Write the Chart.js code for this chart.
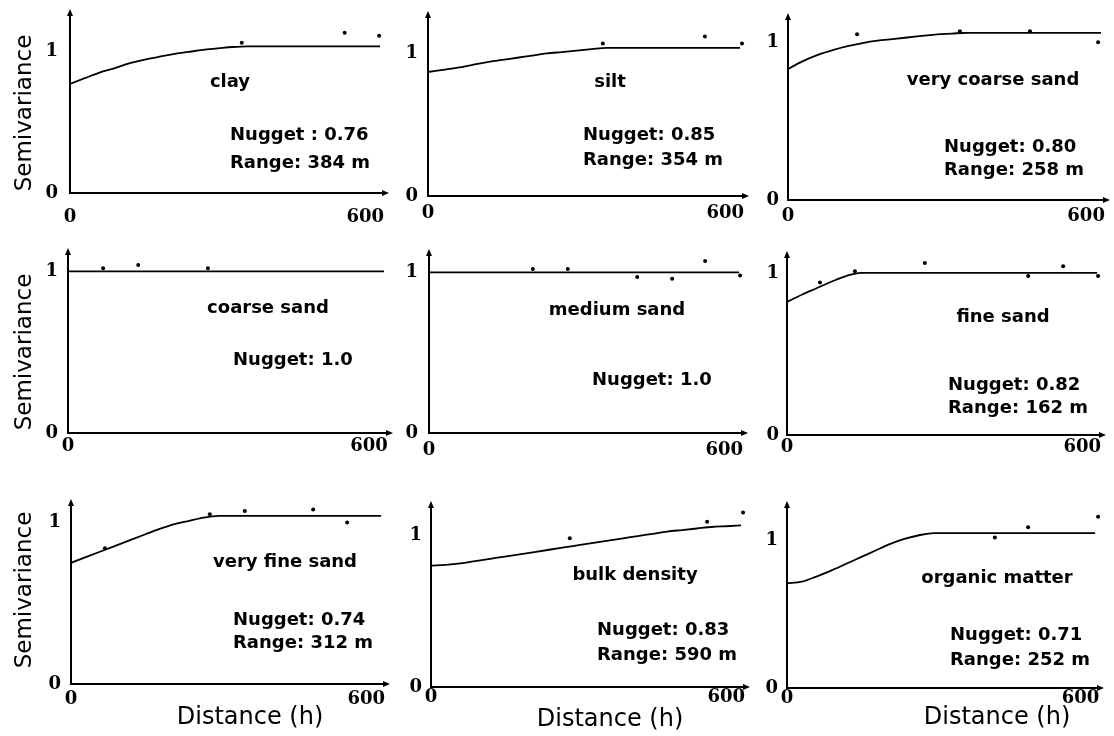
<!DOCTYPE html>
<html>
<head>
<meta charset="utf-8">
<script src="https://cdn.jsdelivr.net/npm/chart.js@4.4.1/dist/chart.umd.min.js"></script>
<style>
    html, body { margin: 0; padding: 0; background: #fff; }
    #wrap { position: relative; width: 1114px; height: 736px; overflow: hidden; }
    #wrap canvas { position: absolute; }
</style>
</head>
<body>
<div id="wrap"></div>
<script>
// semivariogram model curves, sampled on a common lag grid (m)
const lagDistance = [0, 30, 60, 90, 120, 150, 180, 210, 240, 270, 300, 330, 360, 390, 420, 450, 480, 510, 540, 570, 600, 630];

const clayModel   = [0.77, 0.81, 0.85, 0.88, 0.915, 0.94, 0.96, 0.98, 0.995, 1.01, 1.02, 1.03, 1.035, 1.035, 1.035, 1.035, 1.035, 1.035, 1.035, 1.035, 1.035, 1.035];
const siltModel   = [0.87, 0.885, 0.90, 0.92, 0.94, 0.955, 0.97, 0.985, 1.0, 1.01, 1.02, 1.03, 1.04, 1.04, 1.04, 1.04, 1.04, 1.04, 1.04, 1.04, 1.04, 1.04];
const vcSandModel = [0.83, 0.88, 0.92, 0.95, 0.975, 0.995, 1.01, 1.02, 1.03, 1.04, 1.05, 1.055, 1.06, 1.06, 1.06, 1.06, 1.06, 1.06, 1.06, 1.06, 1.06, 1.06];
const cSandModel  = [1.0, 1.0, 1.0, 1.0, 1.0, 1.0, 1.0, 1.0, 1.0, 1.0, 1.0, 1.0, 1.0, 1.0, 1.0, 1.0, 1.0, 1.0, 1.0, 1.0, 1.0, 1.0];
const mSandModel  = [1.0, 1.0, 1.0, 1.0, 1.0, 1.0, 1.0, 1.0, 1.0, 1.0, 1.0, 1.0, 1.0, 1.0, 1.0, 1.0, 1.0, 1.0, 1.0, 1.0, 1.0, 1.0];
const fSandModel  = [0.82, 0.865, 0.905, 0.945, 0.98, 1.0, 1.0, 1.0, 1.0, 1.0, 1.0, 1.0, 1.0, 1.0, 1.0, 1.0, 1.0, 1.0, 1.0, 1.0, 1.0, 1.0];
const vfSandModel = [0.75, 0.785, 0.82, 0.855, 0.89, 0.925, 0.96, 0.99, 1.01, 1.03, 1.04, 1.04, 1.04, 1.04, 1.04, 1.04, 1.04, 1.04, 1.04, 1.04, 1.04, 1.04];
const bulkModel   = [0.80, 0.805, 0.815, 0.83, 0.845, 0.86, 0.875, 0.89, 0.905, 0.92, 0.935, 0.95, 0.965, 0.98, 0.995, 1.01, 1.025, 1.035, 1.045, 1.055, 1.06, 1.065];
const omModel     = [0.71, 0.72, 0.755, 0.795, 0.84, 0.885, 0.93, 0.975, 1.01, 1.035, 1.05, 1.05, 1.05, 1.05, 1.05, 1.05, 1.05, 1.05, 1.05, 1.05, 1.05, 1.05];

// experimental points that stand off the curve
const clayLags   = [349, 558, 628];
const clayPts    = [1.06, 1.13, 1.11];
const siltLags   = [353, 559, 634];
const siltPts    = [1.07, 1.12, 1.07];
const vcSandLags = [139, 346, 487, 624];
const vcSandPts  = [1.05, 1.07, 1.07, 1.0];
const cSandLags  = [70, 140, 279];
const cSandPts   = [1.02, 1.04, 1.02];
const mSandLags  = [211, 282, 423, 494, 561, 632];
const mSandPts   = [1.02, 1.02, 0.97, 0.96, 1.07, 0.98];
const fSandLags  = [67, 138, 280, 490, 561, 632];
const fSandPts   = [0.94, 1.01, 1.06, 0.98, 1.04, 0.98];
const vfSandLags = [69, 282, 353, 492, 561];
const vfSandPts  = [0.84, 1.05, 1.07, 1.08, 1.0];
const bulkLags   = [282, 561, 634];
const bulkPts    = [0.98, 1.09, 1.15];
const omLags     = [425, 493, 636];
const omPts      = [1.02, 1.09, 1.16];

const panelNames   = ['clay', 'silt', 'very coarse sand', 'coarse sand', 'medium sand', 'fine sand', 'very fine sand', 'bulk density', 'organic matter'];
const nuggetLabels = ['Nugget : 0.76', 'Nugget: 0.85', 'Nugget: 0.80', 'Nugget: 1.0', 'Nugget: 1.0', 'Nugget: 0.82', 'Nugget: 0.74', 'Nugget: 0.83', 'Nugget: 0.71'];
const rangeLabels  = ['Range: 384 m', 'Range: 354 m', 'Range: 258 m', '', '', 'Range: 162 m', 'Range: 312 m', 'Range: 590 m', 'Range: 252 m'];
const yTicks = [0, 1];
const xTicks = [0, 600];
const xTitle = 'Distance (h)';
const yTitle = 'Semivariance';

const models = [clayModel, siltModel, vcSandModel, cSandModel, mSandModel, fSandModel, vfSandModel, bulkModel, omModel];
const ptLags = [clayLags, siltLags, vcSandLags, cSandLags, mSandLags, fSandLags, vfSandLags, bulkLags, omLags];
const ptVals = [clayPts, siltPts, vcSandPts, cSandPts, mSandPts, fSandPts, vfSandPts, bulkPts, omPts];

// page layout: canvas cells and plot frames (page pixels)
const colLeft = [0, 400, 760], colWidth = [400, 360, 354];
const rowTop = [0, 235, 475], rowHeight = [235, 240, 261];
const frames = [
    { L: 70,  R: 385,  T: 13,  B: 193, ymax: 1.27, xPad: 14, yPad: 12, title: [160, 111], nug: [160, 58], rng: 30 },
    { L: 428, R: 745,  T: 15,  B: 196, ymax: 1.27, xPad: 7,  yPad: 10, title: [182, 114], nug: [155, 61], rng: 36 },
    { L: 788, R: 1106, T: 17,  B: 200, ymax: 1.16, xPad: 6,  yPad: 9,  title: [205, 120], nug: [156, 53], rng: 30 },
    { L: 68,  R: 389,  T: 252, B: 433, ymax: 1.12, xPad: 3,  yPad: 10, title: [200, 125], nug: [165, 73], rng: 0 },
    { L: 429, R: 744,  T: 253, B: 433, ymax: 1.12, xPad: 7,  yPad: 11, title: [188, 123], nug: [163, 53], rng: 0 },
    { L: 787, R: 1102, T: 255, B: 435, ymax: 1.11, xPad: 2,  yPad: 8,  title: [216, 118], nug: [161, 50], rng: 27 },
    { L: 71,  R: 386,  T: 503, B: 684, ymax: 1.12, xPad: 5,  yPad: 10, title: [214, 122], nug: [162, 64], rng: 41 },
    { L: 431, R: 746,  T: 505, B: 687, ymax: 1.20, xPad: 0,  yPad: 9,  title: [204, 112], nug: [166, 57], rng: 32 },
    { L: 787, R: 1100, T: 505, B: 688, ymax: 1.24, xPad: 0,  yPad: 9,  title: [210, 110], nug: [163, 53], rng: 28 }
];
const yTitlePos = [[-45, 80], null, null, [-43, 81], null, null, [-46, 94], null, null];
const xTitlePos = [null, null, null, null, null, null, [179, -34], [179, -33], [210, -30]];

const textFont = 'bold 18px "DejaVu Sans", Verdana, sans-serif';
const tickFont = { family: '"DejaVu Serif", serif', size: 18, weight: 'bold' };

// texts and axis arrowheads
const panelText = {
    id: 'panelText',
    afterDraw(chart, args, o) {
        const ctx = chart.ctx;
        const a = chart.chartArea;
        ctx.save();
        ctx.fillStyle = '#000';

        // arrowheads
        ctx.beginPath();
        ctx.moveTo(a.left, a.top - 4);
        ctx.lineTo(a.left - 3, a.top + 3);
        ctx.lineTo(a.left + 3, a.top + 3);
        ctx.closePath();
        ctx.fill();
        ctx.beginPath();
        ctx.moveTo(a.right + 4, a.bottom);
        ctx.lineTo(a.right - 3, a.bottom - 3);
        ctx.lineTo(a.right - 3, a.bottom + 3);
        ctx.closePath();
        ctx.fill();

        ctx.font = textFont;
        ctx.textBaseline = 'middle';
        ctx.textAlign = 'center';
        ctx.fillText(o.title, a.left + o.f.title[0], a.bottom - o.f.title[1]);
        ctx.textAlign = 'left';
        ctx.fillText(o.nugget, a.left + o.f.nug[0], a.bottom - o.f.nug[1]);
        if (o.range) ctx.fillText(o.range, a.left + o.f.nug[0], a.bottom - o.f.rng);

        if (o.yPos) {
            ctx.save();
            ctx.font = '23px "DejaVu Sans", Verdana, sans-serif';
            ctx.textAlign = 'center';
            ctx.translate(a.left + o.yPos[0], a.bottom - o.yPos[1]);
            ctx.rotate(-Math.PI / 2);
            ctx.fillText(yTitle, 0, 0);
            ctx.restore();
        }
        if (o.xPos) {
            ctx.font = '24px "DejaVu Sans", Verdana, sans-serif';
            ctx.textAlign = 'center';
            ctx.fillText(xTitle, a.left + o.xPos[0], a.bottom - o.xPos[1]);
        }
        ctx.restore();
    }
};

const wrap = document.getElementById('wrap');

function makePanel(i) {
    const f = frames[i];
    const col = i % 3, row = Math.floor(i / 3);
    const cx = colLeft[col], cy = rowTop[row], w = colWidth[col], h = rowHeight[row];
    // the axes take the whole margin so their labels are not clipped
    const yAxisW = f.L - cx;
    const xAxisH = cy + h - f.B;

    const canvas = document.createElement('canvas');
    canvas.width = w;
    canvas.height = h;
    canvas.style.left = cx + 'px';
    canvas.style.top = cy + 'px';
    wrap.appendChild(canvas);

    new Chart(canvas, {
        type: 'scatter',
        data: {
            datasets: [
                {
                    data: lagDistance.map((x, k) => ({ x: x, y: models[i][k] })),
                    showLine: true,
                    borderColor: '#000',
                    borderWidth: 1.8,
                    pointRadius: 0,
                    cubicInterpolationMode: 'monotone'
                },
                {
                    data: ptLags[i].map((x, k) => ({ x: x, y: ptVals[i][k] })),
                    pointRadius: 2,
                    backgroundColor: '#000',
                    borderWidth: 0
                }
            ]
        },
        options: {
            responsive: false,
            animation: false,
            layout: { padding: { left: 0, right: cx + w - f.R, top: f.T - cy, bottom: 0 } },
            plugins: {
                legend: { display: false },
                tooltip: { enabled: false },
                panelText: {
                    f: f,
                    title: panelNames[i],
                    nugget: nuggetLabels[i],
                    range: rangeLabels[i],
                    yPos: yTitlePos[i],
                    xPos: xTitlePos[i]
                }
            },
            scales: {
                x: {
                    type: 'linear',
                    min: 0,
                    max: 640,
                    afterBuildTicks: s => { s.ticks = xTicks.map(v => ({ value: v })); },
                    afterFit: s => { s.height = xAxisH; s.paddingLeft = 0; s.paddingRight = 0; },
                    grid: { display: false, drawTicks: false },
                    border: { display: true, color: '#000', width: 2 },
                    ticks: { font: tickFont, color: '#000', padding: f.xPad, maxRotation: 0, autoSkip: false }
                },
                y: {
                    type: 'linear',
                    min: 0,
                    max: f.ymax,
                    afterBuildTicks: s => { s.ticks = yTicks.map(v => ({ value: v })); },
                    afterFit: s => { s.width = yAxisW; s.paddingTop = 0; s.paddingBottom = 0; },
                    grid: { display: false, drawTicks: false },
                    border: { display: true, color: '#000', width: 2 },
                    ticks: { font: tickFont, color: '#000', padding: f.yPad, autoSkip: false }
                }
            }
        },
        plugins: [panelText]
    });
}

for (let i = 0; i < 9; i++) makePanel(i);
</script>
</body>
</html>
